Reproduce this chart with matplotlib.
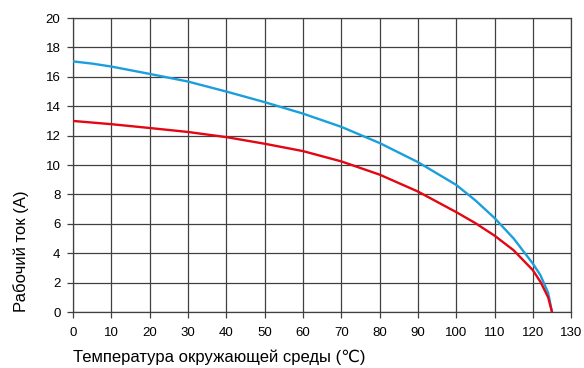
import matplotlib.pyplot as plt

# values
temp_blue = [0, 5, 10, 20, 30, 40, 50, 60, 70, 80, 90, 100, 105, 110, 115, 120, 122, 124, 125]
curr_blue = [17.05, 16.9, 16.7, 16.2, 15.68, 15.0, 14.28, 13.5, 12.6, 11.5, 10.2, 8.65, 7.6, 6.4, 5.0, 3.3, 2.5, 1.3, 0.0]

temp_red = [0, 10, 20, 30, 40, 50, 60, 70, 80, 90, 100, 105, 110, 115, 120, 122, 124, 125]
curr_red = [13.0, 12.78, 12.52, 12.25, 11.9, 11.45, 10.95, 10.25, 9.35, 8.2, 6.8, 6.05, 5.2, 4.2, 2.85, 2.05, 1.0, 0.0]

xticks = list(range(0, 131, 10))
yticks = list(range(0, 21, 2))

plt.rcParams['font.family'] = ['Liberation Sans', 'DejaVu Sans']

fig = plt.figure(figsize=(5.84, 3.68), dpi=100)
ax = fig.add_axes([0.125, 0.152, 0.853, 0.799])

ax.plot(temp_blue, curr_blue, color='#1a9fdc', lw=1.7, zorder=3)
ax.plot(temp_red, curr_red, color='#e30613', lw=1.7, zorder=3)

ax.set_xlim(0, 130)
ax.set_ylim(0, 20)
ax.set_xticks(xticks)
ax.set_yticks(yticks)
ax.grid(True, color='#404040', lw=0.9)
for s in ax.spines.values():
    s.set_color('#404040')
    s.set_linewidth(0.9)
ax.tick_params(direction='out', length=4, width=0.9, color='#404040', labelsize=9.5, pad=7)
ax.tick_params(axis='y', pad=5)

ax.set_xlabel('Температура окружающей среды (℃)', fontsize=12, loc='left', labelpad=7)
ax.set_ylabel('Рабочий ток (A)', fontsize=12, loc='bottom', labelpad=12)

fig.savefig('out.png', dpi=100)
